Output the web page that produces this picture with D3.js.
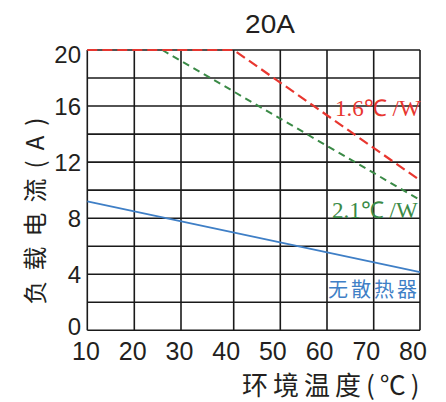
<!DOCTYPE html>
<html>
<head>
<meta charset="utf-8">
<script src="https://cdn.jsdelivr.net/npm/d3@7"></script>
<style>
  body { margin: 0; background: #fff; }
  text { font-family: "Liberation Sans", Arial, sans-serif; fill: #231f20; }
  .cjk { font-family: "Noto Sans CJK SC", sans-serif; }
  .serif { font-family: "Liberation Serif", "Times New Roman", serif; }
</style>
</head>
<body>
<div id="chart"></div>
<script>
// temperature ticks (°C) and current ticks (A)
const tempTicks = [10, 20, 30, 40, 50, 60, 70, 80];
const currentTicks = [0, 4, 8, 12, 16, 20];
const currentGrid = [0, 2, 4, 6, 8, 10, 12, 14, 16, 18, 20];

// derating curves
const redTemp = [10, 40, 80];
const redCurrent = [20, 20, 10.7];
const greenTemp = [26, 80];
const greenCurrent = [20, 9.3];
const blueTemp = [10, 80];
const blueCurrent = [9.2, 4.15];

const titleText = "20A";
const yTitle = "负载电流(A)";
const xTitle = "环境温度(℃)";
const redLabel = "1.6℃ /W";
const greenLabel = "2.1℃ /W";
const blueLabel = "无散热器";

const width = 446, height = 402;
const colors = { red: "#e8362f", green: "#3a8a46", blue: "#3f7fc6" };

const svg = d3.select("#chart").append("svg")
    .attr("width", width)
    .attr("height", height);

// the grid columns in the source are not evenly spaced
const x = d3.scaleLinear()
    .domain(tempTicks)
    .range([87.3, 134.3, 181, 233.7, 280.3, 327, 373.7, 420]);
// tick labels sit on an even spacing
const xLabel = d3.scaleLinear().domain([10, 80]).range([86, 413]);

const y = d3.scaleLinear().domain([0, 20]).range([330.3, 50]);

// grid
const grid = svg.append("g")
    .attr("stroke", "#1a1a1a")
    .attr("stroke-width", 1.6);

grid.selectAll("line.v")
    .data(tempTicks)
    .join("line")
    .attr("class", "v")
    .attr("x1", d => x(d)).attr("x2", d => x(d))
    .attr("y1", y(0)).attr("y2", y(20));

grid.selectAll("line.h")
    .data(currentGrid)
    .join("line")
    .attr("class", "h")
    .attr("x1", x(10)).attr("x2", x(80))
    .attr("y1", d => y(d)).attr("y2", d => y(d));

// tick labels (end labels nudged inward like the source)
svg.append("g").selectAll("text")
    .data(currentTicks)
    .join("text")
    .attr("x", 81)
    .attr("y", d => y(d) + (d === 0 ? -4 : d === 20 ? 4 : 0))
    .attr("dy", "0.36em")
    .attr("text-anchor", "end")
    .style("font-size", "24px")
    .text(d => d);

svg.append("g").selectAll("text")
    .data(tempTicks)
    .join("text")
    .attr("x", d => xLabel(d))
    .attr("y", 360)
    .attr("text-anchor", "middle")
    .style("font-size", "25px")
    .text(d => d);

// title
svg.append("text")
    .attr("transform", "translate(270,33) scale(1.12,1)")
    .attr("text-anchor", "middle")
    .style("font-size", "25px")
    .text(titleText);

// axis titles
svg.append("text")
    .attr("class", "cjk")
    .attr("transform", "translate(44,206) rotate(-90)")
    .attr("text-anchor", "middle")
    .style("font-size", "24px")
    .style("letter-spacing", "10px")
    .text(yTitle);

svg.append("text")
    .attr("class", "cjk")
    .attr("x", 242)
    .attr("y", 395)
    .style("font-size", "26px")
    .style("letter-spacing", "5px")
    .text(xTitle);

// curves
const line = (xs, ys) => d3.line()
    .x((d, i) => x(xs[i]))
    .y((d, i) => y(ys[i]))(xs);

svg.append("path")
    .attr("d", line(greenTemp, greenCurrent))
    .attr("fill", "none")
    .attr("stroke", colors.green)
    .attr("stroke-width", 2)
    .attr("stroke-dasharray", "7,5");

svg.append("path")
    .attr("d", line(redTemp, redCurrent))
    .attr("fill", "none")
    .attr("stroke", colors.red)
    .attr("stroke-width", 2.2)
    .attr("stroke-dasharray", "10,5");

svg.append("path")
    .attr("d", line(blueTemp, blueCurrent))
    .attr("fill", "none")
    .attr("stroke", colors.blue)
    .attr("stroke-width", 1.8);

// curve labels
svg.append("text")
    .attr("class", "serif")
    .attr("x", 335).attr("y", 116)
    .style("font-size", "23px")
    .style("fill", colors.red)
    .text(redLabel);

svg.append("text")
    .attr("class", "serif")
    .attr("x", 332).attr("y", 218)
    .style("font-size", "23px")
    .style("fill", colors.green)
    .text(greenLabel);

svg.append("text")
    .attr("class", "cjk")
    .attr("x", 328).attr("y", 297)
    .style("font-size", "20px")
    .style("letter-spacing", "3px")
    .style("fill", colors.blue)
    .text(blueLabel);
</script>
</body>
</html>
